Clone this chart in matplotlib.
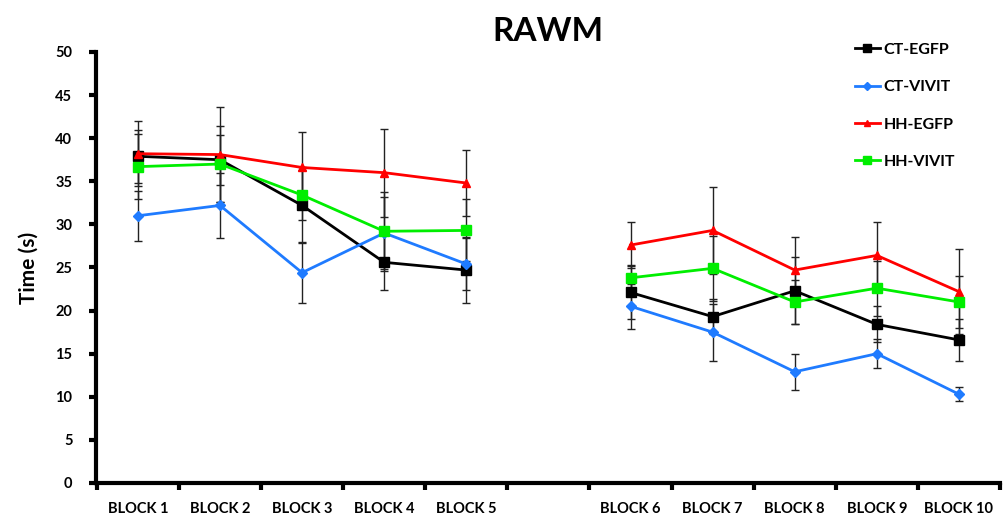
import matplotlib.pyplot as plt
import numpy as np

plt.rcParams["font.family"] = ["Lato", "DejaVu Sans"]
plt.rcParams["font.weight"] = "bold"

blocks = ["BLOCK 1", "BLOCK 2", "BLOCK 3", "BLOCK 4", "BLOCK 5",
          "BLOCK 6", "BLOCK 7", "BLOCK 8", "BLOCK 9", "BLOCK 10"]
# category slots: blocks 1-5 then one empty slot, then 6-10
positions = [1, 2, 3, 4, 5, 7, 8, 9, 10, 11]

ct_egfp = [37.9, 37.5, 32.2, 25.6, 24.7, 22.1, 19.3, 22.3, 18.4, 16.6]
ct_egfp_err = [3.1, 2.9, 4.4, 3.2, 3.8, 3.1, 2.0, 3.9, 2.1, 2.4]

ct_vivit = [31.0, 32.2, 24.4, 29.0, 25.4, 20.5, 17.5, 12.9, 15.0, 10.3]
ct_vivit_err = [2.9, 3.8, 3.5, 4.2, 3.0, 2.6, 3.3, 2.1, 1.7, 0.8]

hh_egfp = [38.2, 38.1, 36.6, 36.0, 34.8, 27.6, 29.3, 24.7, 26.4, 22.2]
hh_egfp_err = [3.8, 5.5, 4.1, 5.1, 3.8, 2.7, 5.0, 3.8, 3.9, 4.9]

hh_vivit = [36.7, 37.0, 33.4, 29.2, 29.3, 23.8, 24.9, 21.0, 22.6, 21.0]
hh_vivit_err = [3.8, 4.4, 2.9, 4.6, 3.6, 1.5, 3.8, 2.6, 3.2, 3.0]

series = [
    ("CT-EGFP", ct_egfp, ct_egfp_err, "black", "s", 7.5),
    ("CT-VIVIT", ct_vivit, ct_vivit_err, "#1F7BFF", "D", 5),
    ("HH-EGFP", hh_egfp, hh_egfp_err, "#FF0000", "^", 6),
    ("HH-VIVIT", hh_vivit, hh_vivit_err, "#00EE00", "s", 7),
]

fig = plt.figure(figsize=(10.04, 5.23), dpi=100)
ax = fig.add_axes([0.0956, 0.0765, 0.9004, 0.8241])

x = np.array(positions)
for label, vals, errs, color, marker, ms in series:
    vals = np.array(vals)
    errs = np.array(errs)
    ax.errorbar(x, vals, yerr=errs, fmt="none", ecolor="#222222",
                elinewidth=1, capsize=3, capthick=1, zorder=2)
    # two separate segments, broken over the empty slot
    for sl in (slice(0, 5), slice(5, 10)):
        line, = ax.plot(x[sl], vals[sl], color=color, marker=marker,
                        markersize=ms, linewidth=2, zorder=3)
    line.set_label(label)

ax.set_xlim(0.49, 11.5)
ax.set_ylim(0, 50)
ax.set_yticks(np.arange(0, 51, 5))
ax.set_xticks(positions)
ax.set_xticklabels(blocks)
ax.set_xticks(np.arange(0.5, 11.6, 1), minor=True)
ax.tick_params(axis="x", which="major", length=0, pad=14, labelsize=10.5)
ax.tick_params(axis="x", which="minor", length=5, width=3, direction="out")
ax.tick_params(axis="y", length=5, width=3, direction="out", labelsize=10.5, pad=12)

for side in ("top", "right"):
    ax.spines[side].set_visible(False)
for side in ("left", "bottom"):
    ax.spines[side].set_linewidth(3)

ax.set_ylabel("Time (s)", fontsize=15, fontweight="bold", labelpad=12)
ax.set_title("RAWM", fontsize=24, fontweight="bold", pad=8)

ax.legend(loc="upper right", bbox_to_anchor=(0.966, 1.055), frameon=False,
          fontsize=11.5, labelspacing=1.45, handlelength=1.6,
          handletextpad=0.2, markerscale=0.8)

fig.savefig("out.png", dpi=100)
